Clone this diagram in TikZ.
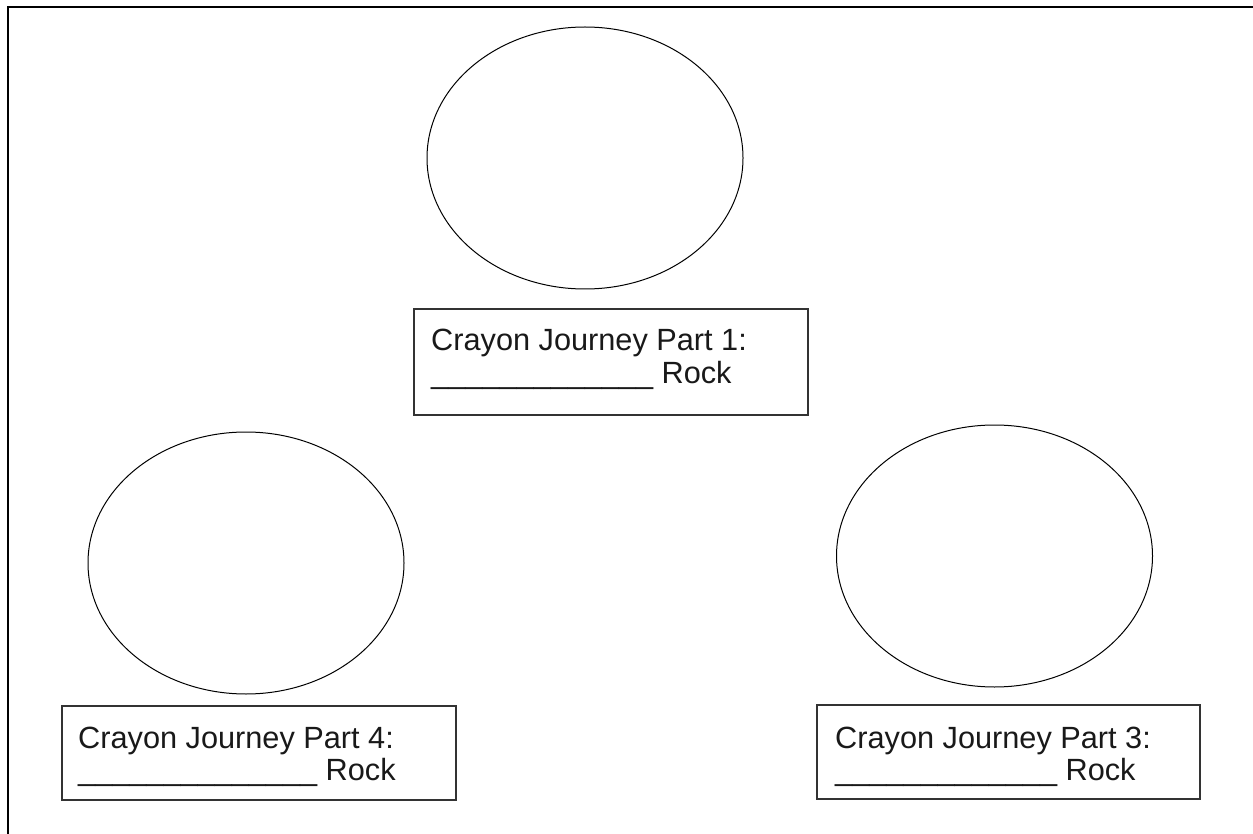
\documentclass[tikz,border=0pt]{standalone}
\usepackage{fontspec}
\setmainfont{Liberation Sans}
\usetikzlibrary{shapes.geometric}
\begin{document}
\begin{tikzpicture}[x=1pt,y=-1pt,
  frameline/.style={line width=2.6pt,black},
  oval/.style={draw=black,line width=1pt,ellipse,inner sep=0pt,minimum width=316pt,minimum height=262pt},
  labelbox/.style={draw=black!80,line width=2pt,rectangle,inner sep=0pt},
  txt/.style={anchor=base west,inner sep=0pt,text=black!90,font=\fontsize{30.7}{32}\selectfont}]
\useasboundingbox (0,0) rectangle (1253,834);
% frame
\coordinate (fbl) at (8,834);
\coordinate (ftl) at (8,7);
\coordinate (ftr) at (1253,7);
\draw[frameline] (fbl) -- (ftl) -- (ftr);
% ellipses
\node[oval] (e1) at (585,158) {};
\node[oval] (e4) at (246,563) {};
\node[oval] (e3) at (994.5,556) {};
% boxes
\node[labelbox,minimum width=394pt,minimum height=106pt] (b1) at (611,362) {};
\node[labelbox,minimum width=394pt,minimum height=94pt] (b4) at (259,753) {};
\node[labelbox,minimum width=383pt,minimum height=94pt] (b3) at (1008.5,752) {};
% texts
\node[txt] (t1a) at (431,351) {Crayon Journey Part 1:};
\node[txt] (t1b) at (431,383) {\_\_\_\_\_\_\_\_\_\_\_\_\_ Rock};
\node[txt] (t4a) at (78,748) {Crayon Journey Part 4:};
\node[txt] (t4b) at (78,780) {\_\_\_\_\_\_\_\_\_\_\_\_\_\_ Rock};
\node[txt] (t3a) at (835,748) {Crayon Journey Part 3:};
\node[txt] (t3b) at (835,780) {\_\_\_\_\_\_\_\_\_\_\_\_\_ Rock};
\end{tikzpicture}
\end{document}
